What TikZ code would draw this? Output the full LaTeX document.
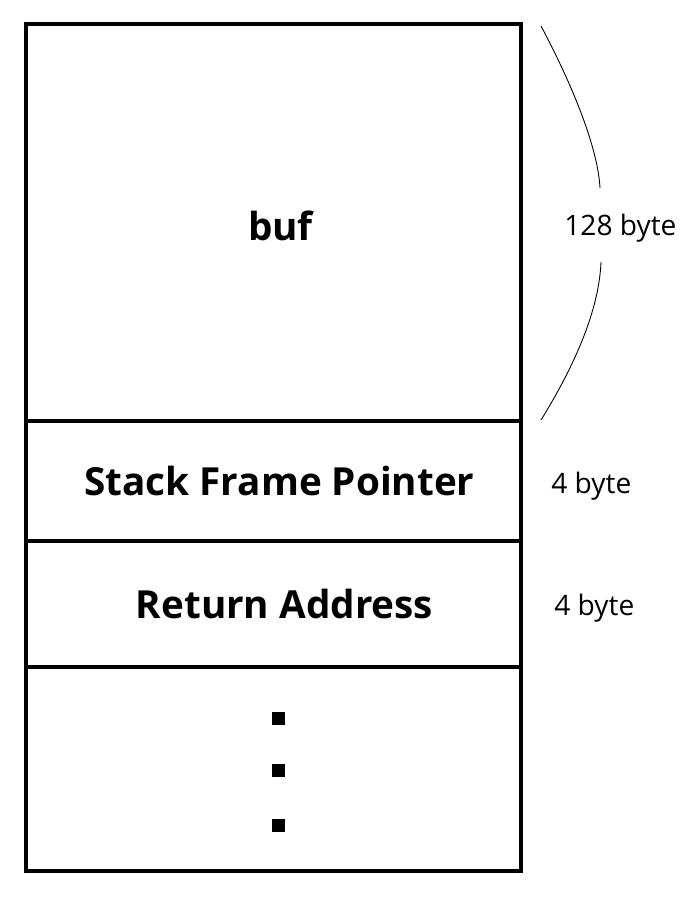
\documentclass[tikz,border=0pt]{standalone}
\usepackage{fontspec}
\setmainfont{Open Sans}
\usepackage{tikz}
\usetikzlibrary{positioning}

\begin{document}
\begin{tikzpicture}  [
        node distance = 0 cm,
        block/.style = {rectangle, draw, line width = 0.08cm, minimum width = 9.9cm, inner sep = 0pt, outer sep = 0pt},
        title/.style = {inner sep = 0pt, font=\fontsize{22}{26}\selectfont\bfseries},
        size/.style = {inner sep = 0pt, font=\fontsize{16}{19}\selectfont},
        dot/.style = {rectangle, fill=black, minimum size = 0.26cm, inner sep = 0pt},
        brace/.style = {line width = 0.5pt}
    ]

    \useasboundingbox (0,0) rectangle (13.84,-18.08);

    \node[block, minimum height = 7.94cm, anchor=north west] at (0.52,-0.48) (buf) {};
    \node[block, minimum height = 2.40cm, below = of buf]   (sfp)  {};
    \node[block, minimum height = 2.52cm, below = of sfp]   (ret)  {};
    \node[block, minimum height = 4.08cm, below = of ret]   (rest) {};

    \node[title] at ([xshift=0.14cm, yshift=-0.06cm]buf.center) (buftext) {buf};
    \node[title] at ([xshift=0.12cm]sfp.center) (sfptext) {Stack Frame Pointer};
    \node[title] at ([xshift=0.22cm]ret.center) (rettext) {Return Address};

    \node[dot] at ([xshift=0.1cm, yshift=1.02cm]rest.center) (d1) {};
    \node[dot, below = 0.78cm of d1] (d2) {};
    \node[dot, below = 0.82cm of d2] (d3) {};

    \node[size, right = 0.86cm of buf.east, yshift=-0.12cm] (bufsize) {128 byte};
    \node[size, right = 0.60cm of sfp.east, yshift=-0.1cm] (sfpsize) {4 byte};
    \node[size, right = 0.66cm of ret.east, yshift=-0.08cm] (retsize) {4 byte};

    % curved brace beside buf
    \coordinate (bt) at (10.82,-0.52);
    \coordinate (bb) at (10.82,-8.40);
    \draw[brace] (bt) .. controls (11.5,-1.8) and (11.96,-3.0) .. (12.0,-3.76);
    \draw[brace] (12.02,-5.24) .. controls (11.98,-6.2) and (11.5,-7.3) .. (bb);

\end{tikzpicture}
\end{document}
